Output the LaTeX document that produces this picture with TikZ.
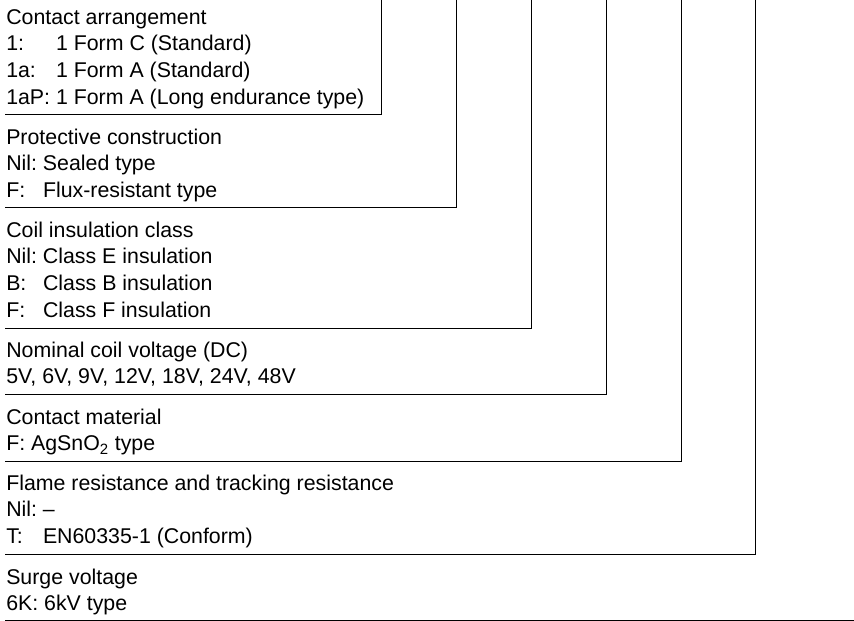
\documentclass[tikz,border=0pt]{standalone}
\usepackage{fontspec}
\setmainfont{Liberation Sans}
\usetikzlibrary{positioning}

\begin{document}
\begin{tikzpicture}[x=0.75pt,y=-0.75pt,
	spec/.style={anchor=base west,inner sep=0pt,text=black,font=\fontsize{16}{20}\selectfont},
	lead/.style={draw=black,line width=0.75pt}]
	\useasboundingbox (0,0) rectangle (854,621);
	\node[spec] at (6,24) (arrangement) {\begin{tabular}[t]{@{}l@{~}l@{}}
		\multicolumn{2}{@{}l@{}}{Contact arrangement}\\
		1: & 1 Form C (Standard)\\
		1a: & 1 Form A (Standard)\\
		1aP: & 1 Form A (Long endurance type)
	\end{tabular}};
	\node[spec] at (6,144) (protective) {\begin{tabular}[t]{@{}l@{~}l@{}}
		\multicolumn{2}{@{}l@{}}{Protective construction}\\
		Nil: & Sealed type\\
		F: & Flux-resistant type
	\end{tabular}};
	\node[spec] at (6,237) (insulation) {\begin{tabular}[t]{@{}l@{~}l@{}}
		\multicolumn{2}{@{}l@{}}{Coil insulation class}\\
		Nil: & Class E insulation\\
		B: & Class B insulation\\
		F: & Class F insulation
	\end{tabular}};
	\node[spec] at (6,357) (voltage) {\begin{tabular}[t]{@{}l@{}}
		Nominal coil voltage (DC)\\
		5V, 6V, 9V, 12V, 18V, 24V, 48V
	\end{tabular}};
	\node[spec] at (6,424) (material) {\begin{tabular}[t]{@{}l@{}}
		Contact material\\
		F: AgSnO\textsubscript{2} type
	\end{tabular}};
	\node[spec] at (6,490) (flame) {\begin{tabular}[t]{@{}l@{~}l@{}}
		\multicolumn{2}{@{}l@{}}{Flame resistance and tracking resistance}\\
		Nil: & --\\
		T: & EN60335-1 (Conform)
	\end{tabular}};
	\node[spec] at (6,584) (surge) {\begin{tabular}[t]{@{}l@{}}
		Surge voltage\\
		6K: 6kV type
	\end{tabular}};
	\draw[lead] (5,114) -| (381,0);
	\draw[lead] (5,207) -| (456.5,0);
	\draw[lead] (5,328) -| (531,0);
	\draw[lead] (5,394) -| (606,0);
	\draw[lead] (5,461) -| (681,0);
	\draw[lead] (5,554) -| (755.5,0);
	\draw[lead] (5,620.5) -- (854,620.5);
\end{tikzpicture}
\end{document}
